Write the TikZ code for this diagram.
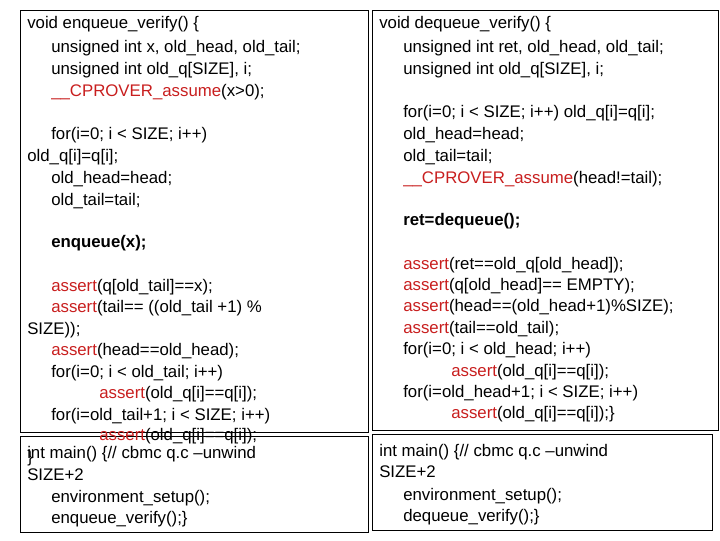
\documentclass[tikz,border=0pt]{standalone}
\usepackage{fontspec}
\setmainfont{Liberation Sans}
\definecolor{kw}{RGB}{200,30,30}
\newcommand{\cl}[4]{\node[anchor=base west,inner sep=0] (#1) at (#2,#3+6) {#4};}
\newcommand{\rd}[1]{\textcolor{kw}{#1}}
\begin{document}
\begin{tikzpicture}[x=0.75pt,y=-0.75pt,box/.style={draw=black,line width=0.6pt},
  every node/.style={font=\fontsize{12.6}{14}\selectfont}]
\useasboundingbox (0,0) rectangle (720,540);
\draw[box] (20,10) rectangle (368,432);
\draw[box] (20,436) rectangle (368,532);
\draw[box] (372,10) rectangle (718,430);
\draw[box] (372,434) rectangle (712,530);
% left
\cl{a1}{27}{22}{void enqueue\_verify() \{}
\cl{a2}{51}{46}{unsigned int x, old\_head, old\_tail;}
\cl{a3}{51}{68}{unsigned int old\_q[SIZE], i;}
\cl{a4}{51}{90}{\rd{\_\_CPROVER\_assume}(x>0);}
\cl{a5}{51}{133}{for(i=0; i < SIZE; i++)}
\cl{a6}{27}{155}{old\_q[i]=q[i];}
\cl{a7}{51}{177}{old\_head=head;}
\cl{a8}{51}{199}{old\_tail=tail;}
\cl{a9}{51}{241}{\textbf{enqueue(x);}}
\cl{a10}{51}{285}{\rd{assert}(q[old\_tail]==x);}
\cl{a11}{51}{306}{\rd{assert}(tail== ((old\_tail +1) \%}
\cl{a12}{27}{328}{SIZE));}
\cl{a13}{51}{349}{\rd{assert}(head==old\_head);}
\cl{a14}{51}{371}{for(i=0; i < old\_tail; i++)}
\cl{a15}{99}{392}{\rd{assert}(old\_q[i]==q[i]);}
\cl{a16}{51}{414}{for(i=old\_tail+1; i < SIZE; i++)}
\cl{a17}{99}{434}{\rd{assert}(old\_q[i]==q[i]);}
\cl{a18}{27}{456}{\}}
\cl{b1}{27}{452}{int main() \{// cbmc q.c –unwind}
\cl{b2}{27}{474}{SIZE+2}
\cl{b3}{51}{496}{environment\_setup();}
\cl{b4}{51}{517}{enqueue\_verify();\}}
% right
\cl{c1}{379}{22}{void dequeue\_verify() \{}
\cl{c2}{403}{46}{unsigned int ret, old\_head, old\_tail;}
\cl{c3}{403}{68}{unsigned int old\_q[SIZE], i;}
\cl{c4}{403}{111}{for(i=0; i < SIZE; i++) old\_q[i]=q[i];}
\cl{c5}{403}{133}{old\_head=head;}
\cl{c6}{403}{155}{old\_tail=tail;}
\cl{c7}{403}{177}{\rd{\_\_CPROVER\_assume}(head!=tail);}
\cl{c8}{403}{219}{\textbf{ret=dequeue();}}
\cl{c9}{403}{263}{\rd{assert}(ret==old\_q[old\_head]);}
\cl{c10}{403}{284}{\rd{assert}(q[old\_head]== EMPTY);}
\cl{c11}{403}{305}{\rd{assert}(head==(old\_head+1)\%SIZE);}
\cl{c12}{403}{327}{\rd{assert}(tail==old\_tail);}
\cl{c13}{403}{348}{for(i=0; i < old\_head; i++)}
\cl{c14}{451}{370}{\rd{assert}(old\_q[i]==q[i]);}
\cl{c15}{403}{391}{for(i=old\_head+1; i < SIZE; i++)}
\cl{c16}{451}{412}{\rd{assert}(old\_q[i]==q[i]);\}}
\cl{d1}{379}{450}{int main() \{// cbmc q.c –unwind}
\cl{d2}{379}{471}{SIZE+2}
\cl{d3}{403}{494}{environment\_setup();}
\cl{d4}{403}{515}{dequeue\_verify();\}}
\end{tikzpicture}
\end{document}
